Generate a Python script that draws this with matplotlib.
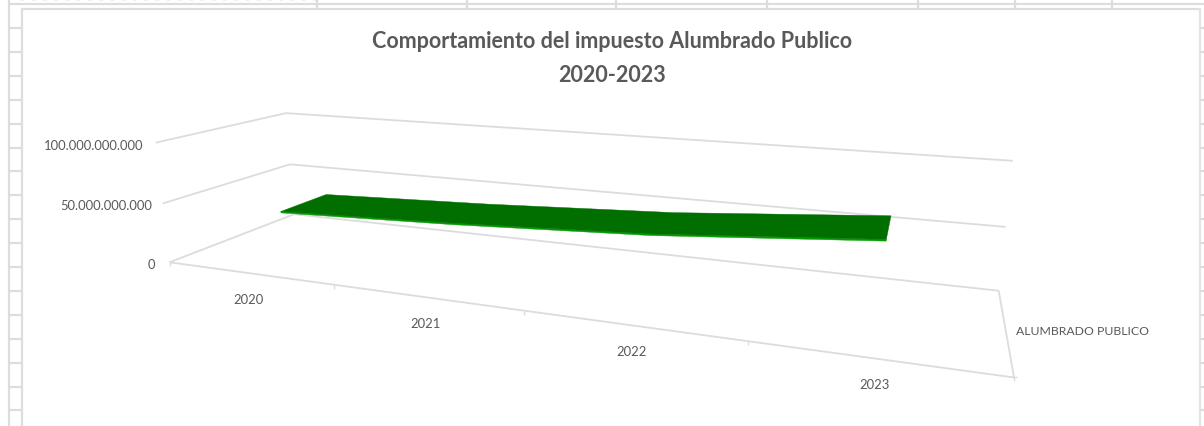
import numpy as np
import matplotlib
matplotlib.use("Agg")
import matplotlib.pyplot as plt

years = ["2020", "2021", "2022", "2023"]
series_name = "ALUMBRADO PUBLICO"
values = [39.5e9, 45e9, 52.5e9, 65e9]
z_ticks = [0, 50e9, 100e9]
z_labels = ["0", "50.000.000.000", "100.000.000.000"]
title = "Comportamiento del impuesto Alumbrado Publico\n2020-2023"

W, H = 1204, 427
GRID = "#DCDCDC"
TEXT = "#595959"
SHEET = "#DDDDDD"
plt.rcParams["font.family"] = ["Lato", "DejaVu Sans"]

# camera calibration: (x fraction, depth fraction, value) -> pixel
anch = [(0,0,0,170,263),(0,0,50e9,162,204),(0,0,100e9,156,144),
        (0,1,0,294,216),(0,1,50e9,290,165),(0,1,100e9,286,114),
        (1,1,0,999,291),(1,1,50e9,1005,228),(1,1,100e9,1013,162),(1,0,0,1014,379)]
A = []
for x, d, z, u, v in anch:
    X = [x, d, z / 1e11, 1]
    A.append(X + [0, 0, 0, 0] + [-u * c for c in X])
    A.append([0, 0, 0, 0] + X + [-v * c for c in X])
P = np.linalg.svd(np.array(A, float))[2][-1].reshape(3, 4)


def proj(x, d, z):
    h = P @ np.array([x, d, z / 1e11, 1.0])
    return h[0] / h[2], h[1] / h[2]


def seg(ax, a, b, **kw):
    ax.plot([a[0], b[0]], [a[1], b[1]], solid_capstyle="butt", **kw)


fig = plt.figure(figsize=(W / 100, H / 100), dpi=100)
ax = fig.add_axes([0, 0, 1, 1])
ax.set_xlim(0, W)
ax.set_ylim(H, 0)
ax.axis("off")

# spreadsheet behind the chart
sheet = dict(color=SHEET, lw=1.6)
seg(ax, (9, 0), (9, H), **sheet)
seg(ax, (9, 5), (W, 5), **sheet)
seg(ax, (22, 9.5), (22, H), **sheet)
seg(ax, (21, 9.5), (1200, 9.5), **sheet)
seg(ax, (1199.5, 9), (1199.5, H), color="#E4E4E4", lw=1.6)
for xp in (317, 467, 616, 767, 918, 1015, 1112):
    seg(ax, (xp, 0), (xp, 9), **sheet)
for yp in np.arange(29, H, 23.9):
    seg(ax, (9, yp), (22, yp), **sheet)
    seg(ax, (1200, yp), (W, yp), **sheet)
ax.plot([20, 320], [0.3, 0.3], color="#222222", lw=0.9, ls=(0, (3, 6)), alpha=0.55)

# walls and floor
grid = dict(color=GRID, lw=1.3)
label_gap = {0: 14, 50e9: 11, 100e9: 12}
for z, lab in zip(z_ticks, z_labels):
    a, b, c = proj(0, 0, z), proj(0, 1, z), proj(1, 1, z)
    seg(ax, a, b, **grid)
    seg(ax, b, c, **grid)
    ax.text(a[0] - label_gap[z], a[1] + 2, lab, ha="right", va="center",
            color=TEXT, fontsize=9.4)
seg(ax, proj(0, 0, 0), proj(1, 0, 0), **grid)
seg(ax, proj(1, 0, 0), proj(1, 1, 0), **grid)
for i in range(len(years) + 1):
    t = proj(i / len(years), 0, 0)
    seg(ax, t, (t[0], t[1] + 4), color=GRID, lw=1.0)
seg(ax, (proj(1, 0, 0)[0] - 1, proj(1, 0, 0)[1]), (proj(1, 0, 0)[0] + 3, proj(1, 0, 0)[1]), color=GRID, lw=1)

# ribbon
D0, D1 = 0.275, 0.66
THICK = 1.2e9
xs = [(i + 0.5) / len(years) for i in range(len(years))]
front = [proj(x, D0, v) for x, v in zip(xs, values)]
back = [proj(x, D1, v) for x, v in zip(xs, values)]
low = [proj(x, D0, v - THICK) for x, v in zip(xs, values)]
ax.fill(*zip(*(front + low[::-1])), color="#009C00", lw=0.3, zorder=3)
ax.fill(*zip(*(front + back[::-1])), color="#006F00", lw=0.3, zorder=4)

# category labels
for x, y in zip(xs, years):
    p = proj(x, 0, 0)
    ax.text(p[0], p[1] + 26, y, ha="center", va="center", color=TEXT, fontsize=9.4)
ax.text(1016, 332, series_name, ha="left", va="center", color=TEXT, fontsize=8.8)

ax.text(612, 58.5, title, ha="center", va="center", color=TEXT, fontsize=15.5,
        fontweight="bold", linespacing=1.75)

fig.savefig("out.png", dpi=100)
